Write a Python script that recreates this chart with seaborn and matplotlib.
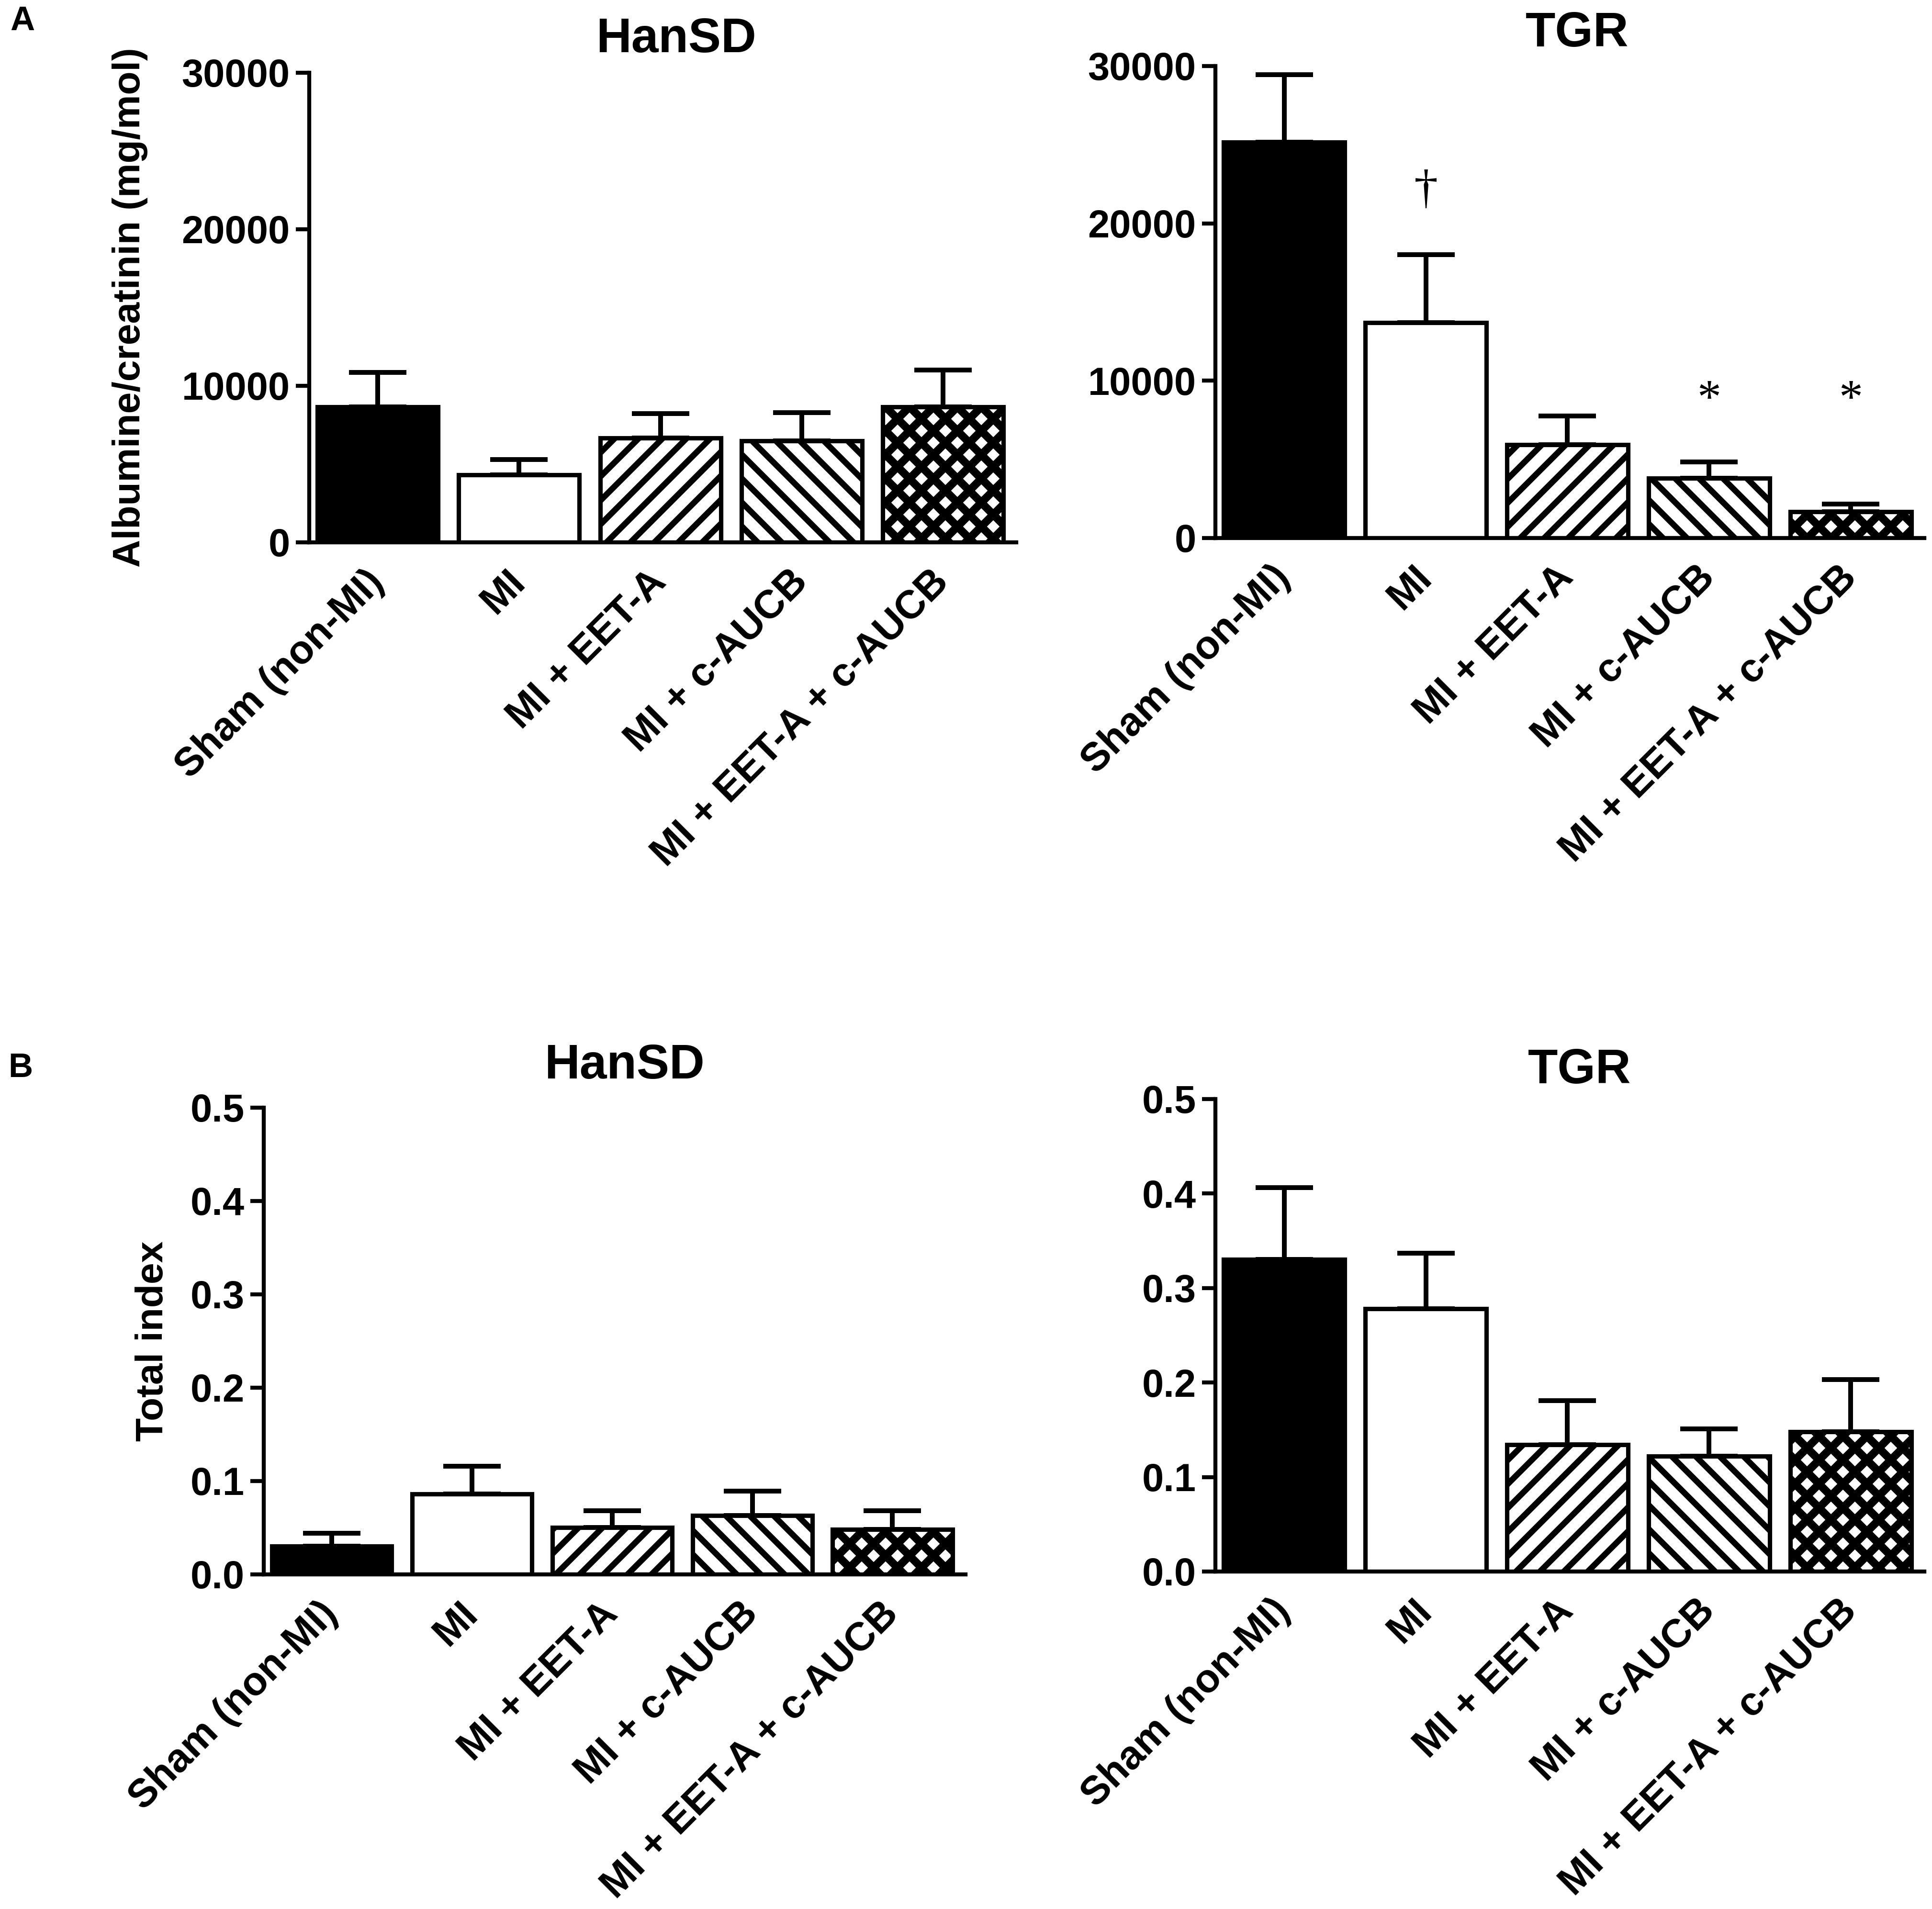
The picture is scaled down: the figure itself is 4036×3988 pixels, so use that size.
import numpy as np
import pandas as pd
import matplotlib
matplotlib.use("Agg")
import matplotlib.pyplot as plt
import seaborn as sns

# groups and bar styles
groups = ["Sham (non-MI)", "MI", "MI + EET-A", "MI + c-AUCB", "MI + EET-A + c-AUCB"]
bar_colors = ["black", "white", "white", "white", "white"]
bar_hatches = ["", "", "//", "\\\\", "xx"]

# A: albumine/creatinin (mg/mol), mean and SEM
alb_hansd = [8650, 4320, 6680, 6480, 8650]
alb_hansd_sem = [2200, 970, 1540, 1800, 2350]
alb_tgr = [25150, 13700, 5930, 3790, 1680]
alb_tgr_sem = [4310, 4310, 1810, 1030, 490]

# significance marks on TGR albumine panel
alb_tgr_marks = ["", "\u2020", "", "*", "*"]
alb_tgr_mark_y = [np.nan, 22050, np.nan, 8730, 8730]

# B: total index, mean and SEM
idx_hansd = [0.030, 0.086, 0.050, 0.063, 0.048]
idx_hansd_sem = [0.014, 0.030, 0.018, 0.026, 0.020]
idx_tgr = [0.330, 0.278, 0.134, 0.122, 0.148]
idx_tgr_sem = [0.076, 0.059, 0.047, 0.029, 0.055]

alb_ticks = [0, 10000, 20000, 30000]
idx_ticks = [0.0, 0.1, 0.2, 0.3, 0.4, 0.5]

sns.set_style("ticks")
plt.rcParams["font.family"] = ["Liberation Sans", "DejaVu Sans"]
plt.rcParams["font.weight"] = "bold"
plt.rcParams["axes.labelweight"] = "bold"
plt.rcParams["text.color"] = "black"
plt.rcParams["axes.labelcolor"] = "black"
plt.rcParams["axes.edgecolor"] = "black"
plt.rcParams["xtick.color"] = "black"
plt.rcParams["ytick.color"] = "black"
plt.rcParams["hatch.linewidth"] = 3.0
plt.rcParams["hatch.color"] = "black"


def draw_panel(ax, means, sems, ticks, ylim, ylabel=None, fmt="{:g}"):
    df = pd.DataFrame({"group": groups, "value": means})
    sns.barplot(data=df, x="group", y="value", hue="group", palette=bar_colors,
                legend=False, width=0.854, edgecolor="black", linewidth=2.2,
                saturation=1, errorbar=None, ax=ax)
    bars = sorted(ax.patches, key=lambda p: p.get_x())
    for bar, h in zip(bars, bar_hatches):
        if h:
            bar.set_hatch(h)
            if hasattr(bar, "set_hatch_linewidth"):
                bar.set_hatch_linewidth(4.0 if "x" in h else 3.0)
    ax.errorbar(range(len(groups)), means, yerr=[np.zeros(len(sems)), sems],
                fmt="none", ecolor="black", elinewidth=2.4, capsize=14.4,
                capthick=2.4, zorder=0.5)
    ax.set_xlim(-0.485, 4.52)
    ax.set_ylim(*ylim)
    ax.set_yticks(ticks)
    ax.set_yticklabels([fmt.format(t) for t in ticks])
    ax.set_xlabel("")
    ax.set_ylabel(ylabel if ylabel else "", fontsize=19.3, fontweight="bold")
    sns.despine(ax=ax)
    for s in ["left", "bottom"]:
        ax.spines[s].set_linewidth(2.0)
    ax.tick_params(axis="y", length=6.7, width=2.0, labelsize=19.5, pad=3)
    ax.tick_params(axis="x", length=0, labelsize=20, pad=17)
    for lab in ax.get_xticklabels():
        lab.set_rotation(45)
        lab.set_ha("right")
        lab.set_va("center")
        lab.set_rotation_mode("anchor")


fig = plt.figure(figsize=(4036 / 300, 3988 / 300), dpi=300)

ax1 = fig.add_axes([0.1601, 0.7159, 0.3660, 0.2460])
ax2 = fig.add_axes([0.6291, 0.7182, 0.3670, 0.2472])
ax3 = fig.add_axes([0.1365, 0.1753, 0.3632, 0.2445])
ax4 = fig.add_axes([0.6291, 0.1768, 0.3670, 0.2475])

draw_panel(ax1, alb_hansd, alb_hansd_sem, alb_ticks, (0, 30000),
           ylabel="Albumine/creatinin (mg/mol)", fmt="{:d}")
draw_panel(ax2, alb_tgr, alb_tgr_sem, alb_ticks, (0, 30000), fmt="{:d}")
draw_panel(ax3, idx_hansd, idx_hansd_sem, idx_ticks, (0, 0.5),
           ylabel="Total index", fmt="{:.1f}")
draw_panel(ax4, idx_tgr, idx_tgr_sem, idx_ticks, (0, 0.5), fmt="{:.1f}")

ax1.yaxis.set_label_coords(-0.228, 0.5)
ax3.yaxis.set_label_coords(-0.132, 0.5)

for i, (m, y) in enumerate(zip(alb_tgr_marks, alb_tgr_mark_y)):
    if m:
        ax2.text(i, y, m, ha="center", va="center", fontsize=24,
                 family="Liberation Serif", fontweight="normal")

# titles and panel letters
fig.text(1412 / 4036, 1 - 109 / 3988, "HanSD", ha="center", va="baseline",
         fontsize=24.5, fontweight="bold")
fig.text(3295 / 4036, 1 - 97 / 3988, "TGR", ha="center", va="baseline",
         fontsize=24.5, fontweight="bold")
fig.text(1304 / 4036, 1 - 2253 / 3988, "HanSD", ha="center", va="baseline",
         fontsize=24.5, fontweight="bold")
fig.text(3300 / 4036, 1 - 2263 / 3988, "TGR", ha="center", va="baseline",
         fontsize=24.5, fontweight="bold")
fig.text(47 / 4036, 1 - 45 / 3988, "A", ha="center", va="center",
         fontsize=17, fontweight="bold")
fig.text(43 / 4036, 1 - 2232 / 3988, "B", ha="center", va="center",
         fontsize=17, fontweight="bold")

fig.savefig("out.png", dpi=300, facecolor="white")
